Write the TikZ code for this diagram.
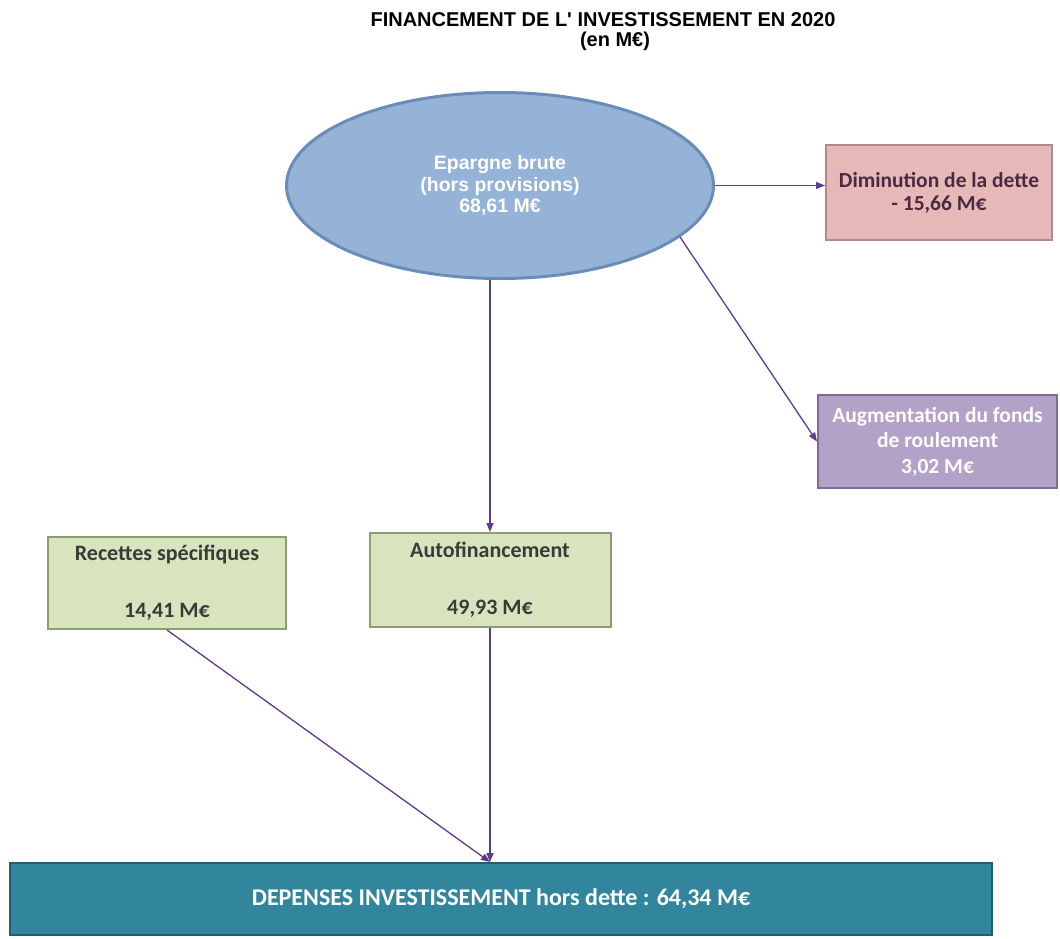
\documentclass[tikz,border=0pt]{standalone}
\usepackage{fontspec}
\setmainfont{Carlito}
\newfontfamily\arial{Liberation Sans}
\usetikzlibrary{shapes.geometric,arrows.meta}
\definecolor{epargne}{HTML}{95B3D7}
\definecolor{epargnebord}{HTML}{6A8CB8}
\definecolor{dette}{HTML}{E6B9B8}
\definecolor{dettebord}{HTML}{B08A8A}
\definecolor{dettetexte}{HTML}{4A2A40}
\definecolor{fonds}{HTML}{B3A2C7}
\definecolor{fondsbord}{HTML}{7F6A9A}
\definecolor{recette}{HTML}{D7E4BD}
\definecolor{recettebord}{HTML}{8E9C72}
\definecolor{gristexte}{HTML}{3A3A3A}
\definecolor{depense}{HTML}{31859C}
\definecolor{depensebord}{HTML}{215F70}
\definecolor{fleche}{HTML}{5E3A8E}

\begin{document}
\begin{tikzpicture}[x=1pt, y=-1pt,
  boite/.style={rectangle, line width=2pt, inner sep=0pt, align=center, font=\bfseries\fontsize{21.5}{23}\selectfont},
  lien/.style={draw=fleche, line width=1.3pt, -{Triangle[length=9pt,width=7pt]}}]
\useasboundingbox (0,0) rectangle (1060,938);
\node[font=\arial\bfseries\fontsize{20}{20}\selectfont, align=center] (titre) at (603,32) {FINANCEMENT DE L' INVESTISSEMENT EN 2020\\\hspace*{24pt}(en M€)};
\node[ellipse, draw=epargnebord, line width=3pt, fill=epargne, minimum width=427pt, minimum height=186pt, inner sep=0pt, align=center, text=white, font=\arial\bfseries\fontsize{19.5}{21.5}\selectfont] (epargne) at (500,185.5) {Epargne brute\\(hors provisions)\\68,61 M€};
\node[boite, draw=dettebord, fill=dette, text=dettetexte, minimum width=226pt, minimum height=95pt] (dette) at (939,192.5) {Diminution de la dette\\- 15,66 M€};
\node[boite, draw=fondsbord, fill=fonds, text=white, minimum width=239pt, minimum height=93pt, font=\bfseries\fontsize{21.5}{25.5}\selectfont] (fonds) at (937.5,441.5) {Augmentation du fonds\\de roulement\\3,02 M€};
\node[boite, draw=recettebord, fill=recette, text=gristexte, minimum width=238pt, minimum height=92pt, font=\bfseries\fontsize{22}{28}\selectfont] (recettes) at (167,583) {Recettes spécifiques\\[29pt]14,41 M€};
\node[boite, draw=recettebord, fill=recette, text=gristexte, minimum width=241pt, minimum height=94pt, font=\bfseries\fontsize{22}{28}\selectfont] (autofin) at (490,580) {Autofinancement\\[29pt]49,93 M€};
\node[boite, draw=depensebord, fill=depense, text=white, minimum width=982pt, minimum height=72pt, font=\bfseries\fontsize{24}{26}\selectfont] (depenses) at (501,899) {DEPENSES INVESTISSEMENT hors dette : 64,34 M€};
\coordinate (cible) at (autofin.south |- depenses.north);
\draw[lien] (epargne.east) -- (dette.west |- epargne.east);
\draw[lien] (epargne.-16.5) -- (fonds.west);
\draw[lien] (epargne.south -| autofin.north) -- (autofin.north);
\draw[lien] (autofin.south) -- (cible);
\draw[lien] (recettes.south) -- (cible);
\end{tikzpicture}
\end{document}
